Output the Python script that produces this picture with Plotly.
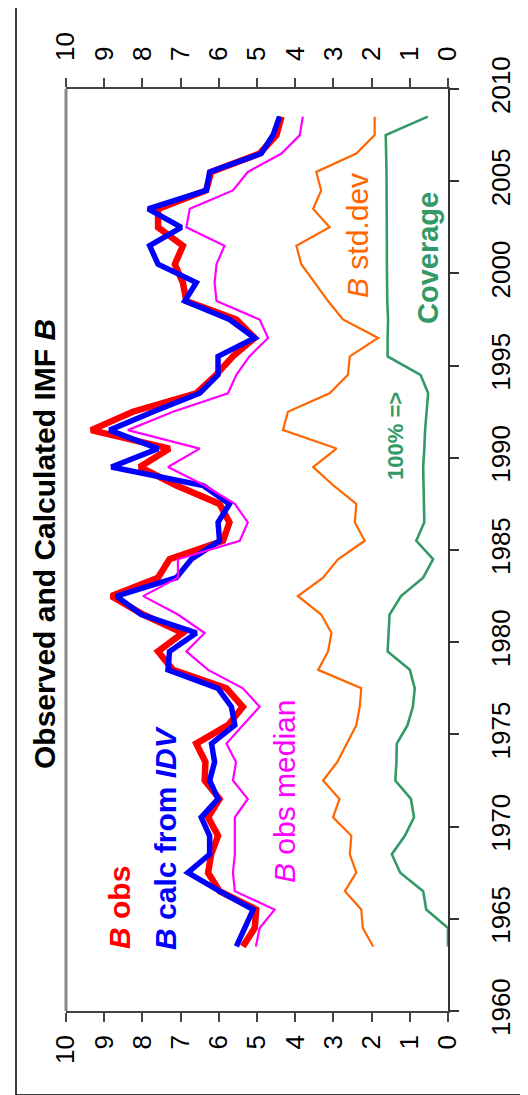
import plotly.graph_objects as go

years = [1963.5 + i for i in range(46)]

b_obs = [5.37, 5.06, 5.02, 5.98, 6.28, 6.20, 6.02, 6.28, 5.98, 6.37,
         6.35, 6.59, 5.76, 5.37, 5.80, 7.20, 7.59, 6.94, 7.98, 8.81,
         7.59, 7.29, 5.89, 5.72, 5.98, 7.11, 8.07, 7.29, 9.34, 8.25,
         6.59, 6.07, 5.63, 5.06, 5.54, 6.85, 6.94, 7.15, 6.94, 7.59,
         7.59, 6.33, 6.20, 4.93, 4.49, 4.36]

b_calc = [5.54, 5.32, 5.10, 5.98, 6.81, 6.24, 6.24, 6.46, 6.02, 6.24,
          6.11, 6.19, 5.58, 5.67, 6.02, 7.33, 7.29, 6.59, 8.03, 8.68,
          7.11, 6.72, 5.98, 6.02, 5.72, 6.41, 8.81, 7.59, 8.86, 7.72,
          6.50, 6.02, 6.02, 5.06, 5.72, 6.89, 6.59, 7.59, 7.81, 6.98,
          7.85, 6.33, 6.24, 4.89, 4.58, 4.41]

b_median = [5.03, 4.93, 4.54, 5.58, 5.63, 5.58, 5.58, 5.58, 5.24, 5.63,
            5.55, 5.80, 5.37, 4.93, 5.37, 6.28, 6.85, 6.37, 7.07, 7.98,
            7.07, 7.07, 5.45, 5.24, 5.58, 6.37, 7.33, 6.50, 8.38, 7.20,
            5.76, 5.54, 5.20, 4.71, 4.93, 6.06, 6.11, 6.06, 5.85, 6.85,
            6.76, 5.63, 5.24, 4.36, 3.88, 3.80]

b_std = [1.96, 2.23, 2.27, 2.70, 2.40, 2.57, 2.53, 3.01, 2.84, 3.27,
         2.90, 2.66, 2.40, 2.31, 2.27, 3.40, 3.14, 3.05, 3.32, 3.93,
         3.27, 2.88, 2.18, 2.44, 2.40, 3.00, 3.53, 2.92, 4.32, 4.19,
         3.10, 2.62, 2.57, 1.83, 2.75, 3.14, 3.50, 3.84, 3.97, 3.10,
         3.53, 3.32, 3.45, 2.40, 1.92, 1.92]

coverage = [0.00, 0.00, 0.57, 0.65, 1.25, 1.47, 1.13, 0.89, 0.97, 1.38,
            1.35, 1.34, 1.06, 0.92, 0.87, 1.00, 1.58, 1.56, 1.53, 1.23,
            0.65, 0.39, 0.83, 0.62, 0.63, 0.65, 0.65, 0.62, 0.60, 0.56,
            0.52, 0.72, 1.58, 1.58, 1.57, 1.59, 1.60, 1.60, 1.60, 1.60,
            1.60, 1.60, 1.61, 1.62, 1.63, 0.53]

value_ticks = list(range(0, 11))
year_ticks = list(range(1960, 2011, 5))

FONT = "Liberation Sans, Arial, Helvetica, sans-serif"

W, H = 528, 1095
L, R, T, B = 58, 440, 81, 1003


def px(x):
    return (x - L) / (R - L)


def py(y):
    return (B - y) / (B - T)


fig = go.Figure()

series = [
    (b_obs, "#FF0000", 6.5, "B obs"),
    (b_calc, "#0000FF", 5.5, "B calc from IDV"),
    (b_median, "#FF00FF", 2.2, "B obs median"),
    (b_std, "#FF6600", 2.2, "B std.dev"),
    (coverage, "#339966", 2.6, "Coverage"),
]
for vals, col, w, name in series:
    fig.add_trace(go.Scatter(x=vals, y=years, mode="lines", name=name,
                             line=dict(color=col, width=w), xaxis="x", yaxis="y"))

# invisible trace for top axis
fig.add_trace(go.Scatter(x=[None], y=[None], xaxis="x2", yaxis="y", showlegend=False))

tickfont = dict(family=FONT, size=26, color="#000")
common_x = dict(range=[10, 0], tickvals=value_ticks, tickangle=-90, ticks="outside",
                ticklen=9, tickcolor="#444", tickwidth=1.5, showline=True, linecolor="#444",
                linewidth=1.5, showgrid=False, zeroline=False, tickfont=tickfont)

fig.update_layout(
    width=W, height=H,
    margin=dict(l=L, r=W - R, t=T, b=H - B, pad=0),
    paper_bgcolor="white", plot_bgcolor="white",
    showlegend=False,
    font=dict(family=FONT),
    xaxis=dict(side="bottom", ticklabelstandoff=3, **common_x),
    xaxis2=dict(side="top", overlaying="x", matches="x", ticklabelstandoff=12, **common_x),
    yaxis=dict(range=[1960, 2010], side="right", tickvals=year_ticks, tickangle=-90,
               ticks="outside", ticklen=9, tickcolor="#333", tickwidth=1.5,
               showline=True, linecolor="#333", linewidth=2, showgrid=False,
               zeroline=False, tickfont=tickfont, ticklabelstandoff=20),
)

# plot-area left border (gray)
fig.add_shape(type="line", xref="paper", yref="paper", x0=0, x1=0, y0=0, y1=1,
              line=dict(color="#888888", width=3))
# outer frame
fig.add_shape(type="rect", xref="paper", yref="paper",
              x0=px(8), x1=px(540), y0=py(1087), y1=py(-10),
              line=dict(color="#000", width=1.5), fillcolor="rgba(0,0,0,0)", layer="below")


def ann(text, x, y, color, size, bold=False):
    if bold:
        text = "<b>" + text + "</b>"
    fig.add_annotation(text=text, xref="paper", yref="paper", x=px(x), y=py(y),
                       xanchor="center", yanchor="middle", textangle=-90,
                       showarrow=False, font=dict(family=FONT, size=size, color=color))


ann("Observed and Calculated IMF <i>B</i>", 36, 536, "#000", 30, bold=True)
ann("<i>B</i> obs", 111, 900, "#FF0000", 30, bold=True)
ann("<i>B</i> calc from <i>IDV</i>", 157, 830, "#0000FF", 30, bold=True)
ann("<i>B</i> obs median", 276, 784, "#FF00FF", 30)
ann("<i>B</i> std.dev", 349, 228, "#FF6600", 30)
ann("Coverage", 420, 250, "#339966", 29, bold=True)
ann("100% =>", 387, 428, "#339966", 22, bold=True)

fig.write_html("out.html")
